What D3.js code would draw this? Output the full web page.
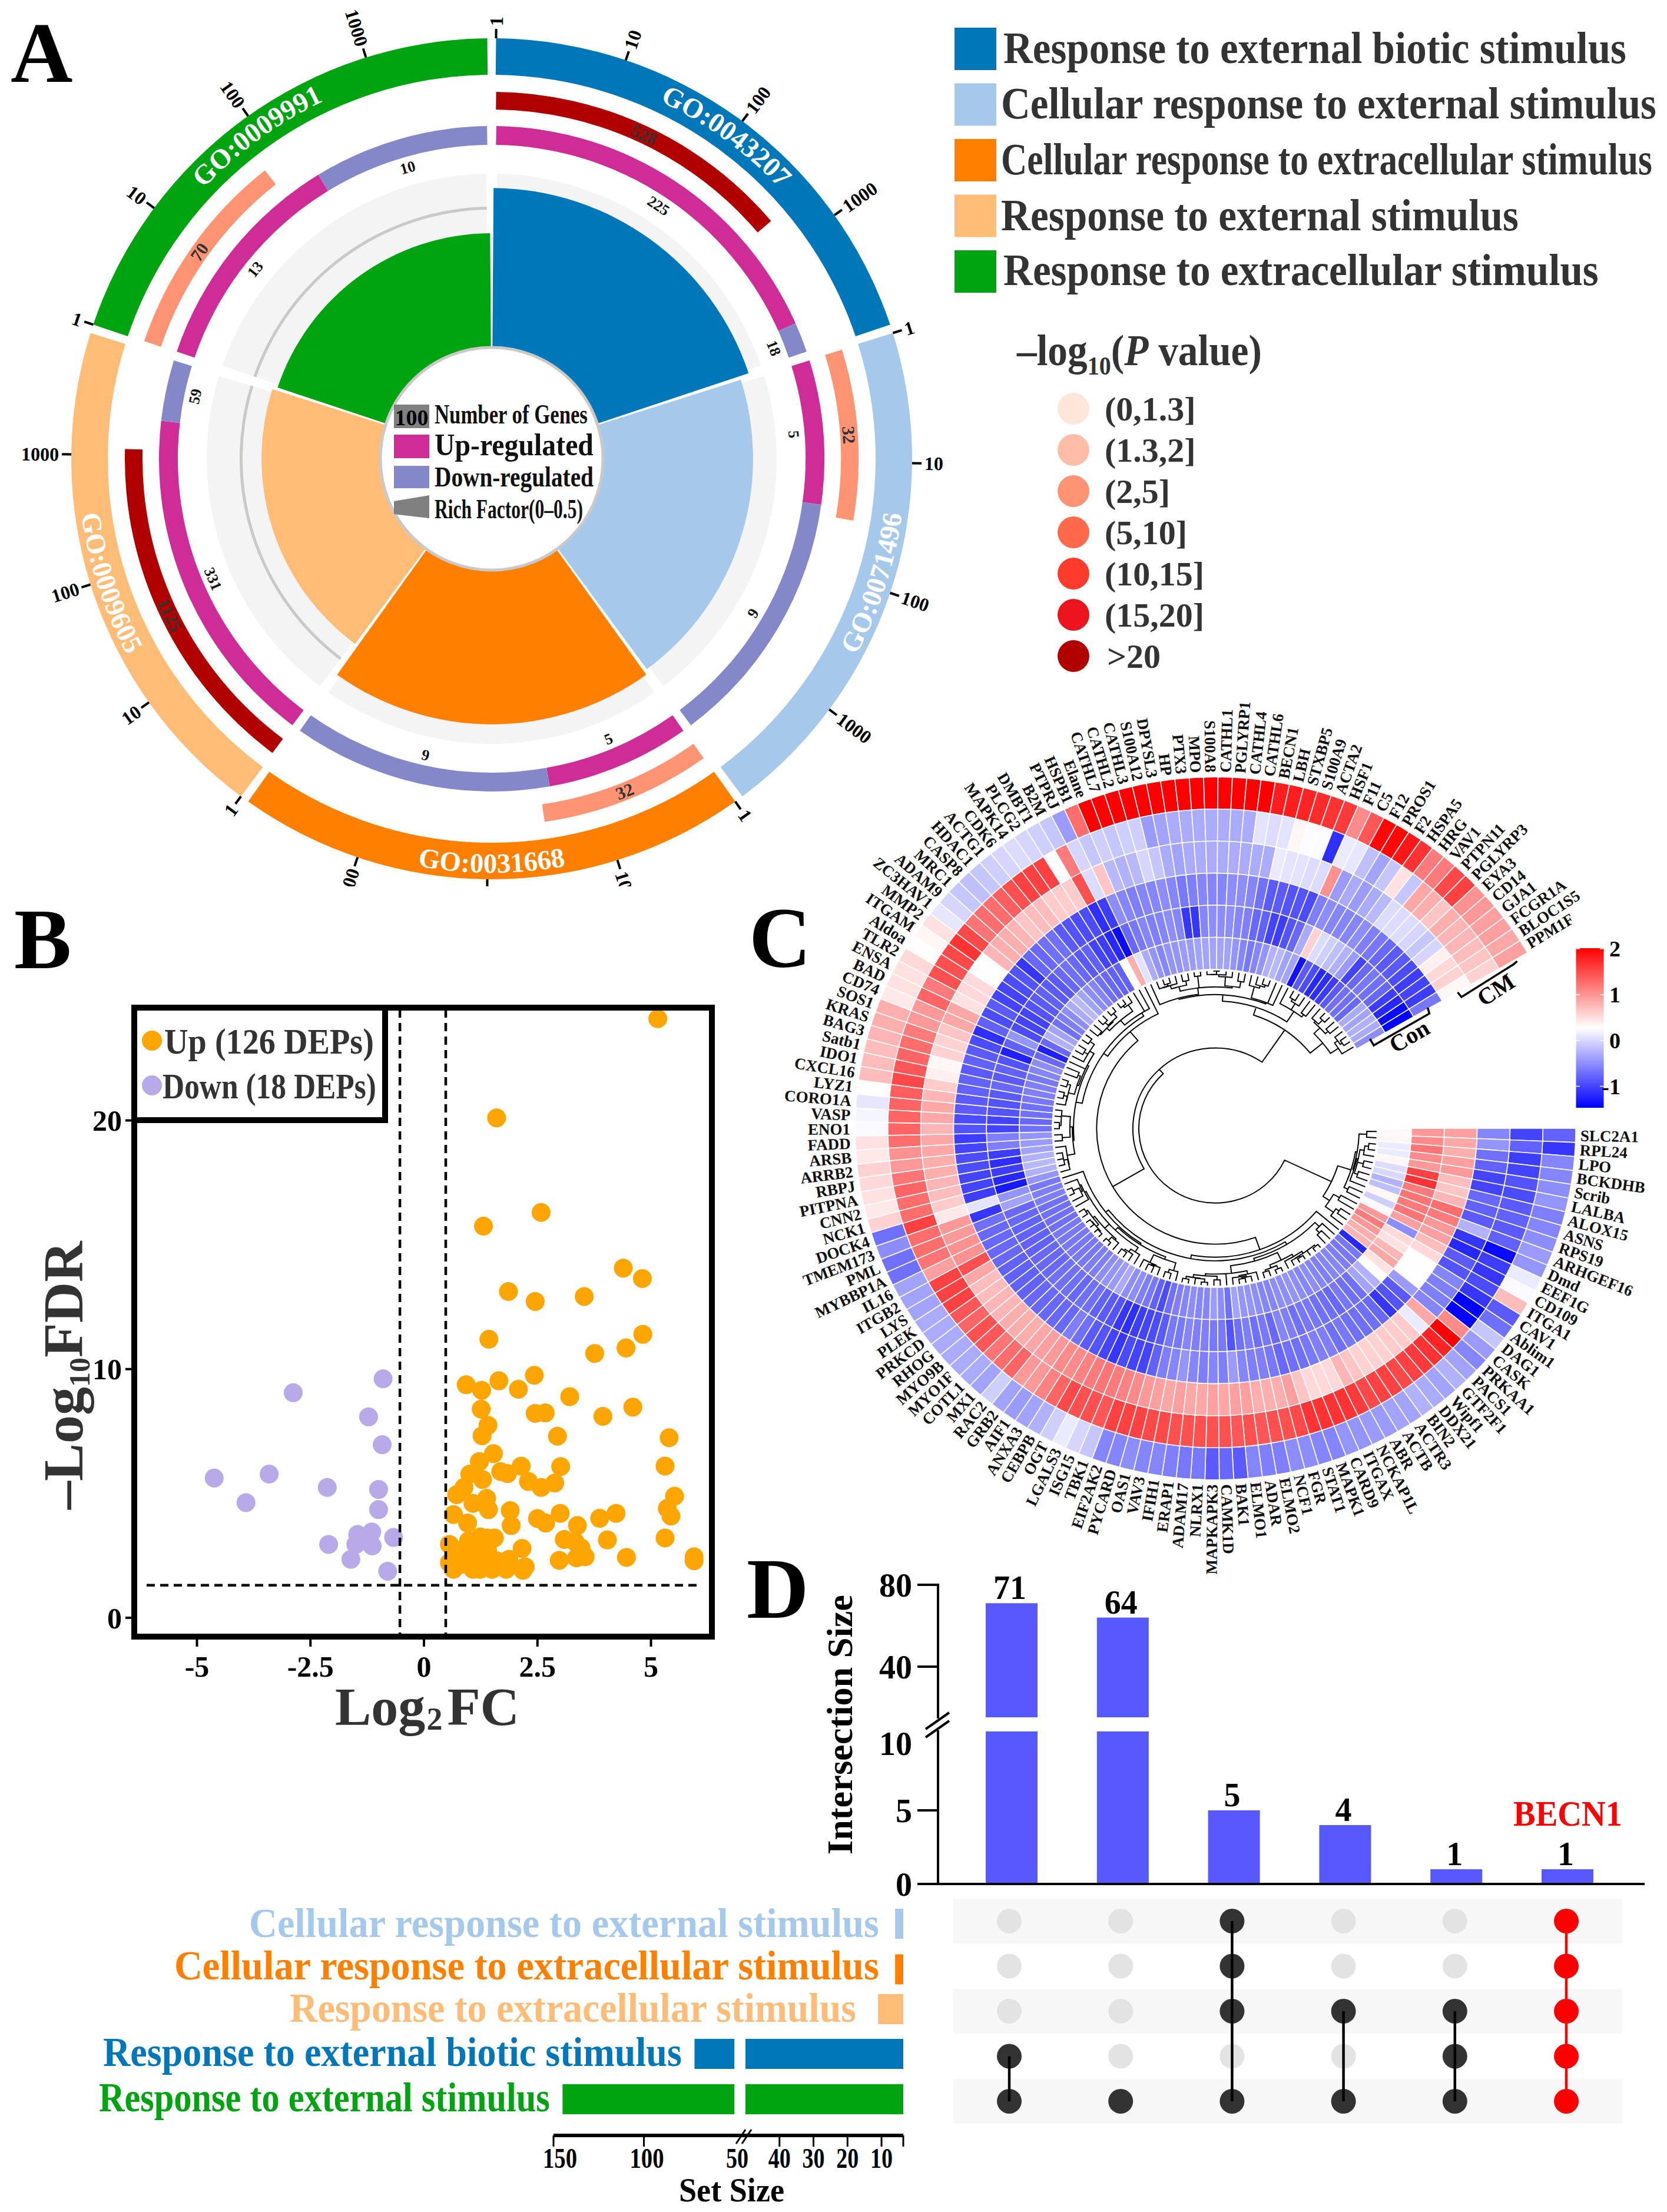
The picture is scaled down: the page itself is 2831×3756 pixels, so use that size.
<!DOCTYPE html>
<html>
<head>
<meta charset="utf-8">
<script src="https://cdn.jsdelivr.net/npm/d3@7"></script>
<style>
  body { margin: 0; background: #fff; }
  text { font-family: "Liberation Serif", serif; font-weight: bold; }
</style>
</head>
<body>
<div id="fig"></div>
<script>
// ---------- panel A data
var goTerms = ["GO:0043207", "GO:0071496", "GO:0031668", "GO:0009605", "GO:0009991"];
var goNames = ["Response to external biotic stimulus", "Cellular response to external stimulus", "Cellular response to extracellular stimulus", "Response to external stimulus", "Response to extracellular stimulus"];
var goColors = ["#0077B8", "#A6C8EA", "#FF8000", "#FEBC77", "#00A410"];
var geneCounts = [528, 32, 32, 1125, 70];
var pColors = ["#B10000", "#FF9474", "#FF9474", "#B10000", "#FF9474"];
var upCounts = [225, 5, 5, 331, 13];
var downCounts = [18, 9, 9, 59, 10];
var richFactor = [0.459, 0.432, 0.444, 0.342, 0.329];
var axisTicks = [1, 10, 100, 1000];
var pLabels = ["(0,1.3]", "(1.3,2]", "(2,5]", "(5,10]", "(10,15]", "(15,20]", ">20"];
var pLegendColors = ["#FEE5DA", "#FFBDA6", "#FF9474", "#FF6A4A", "#FF3B2C", "#EB141C", "#B10000"];

// ---------- panel B data (log2FC, -log10FDR)
var upFC = [5.15,1.6,2.58,1.31,4.39,4.81,1.86,2.45,3.53,1.43,4.82,4.45,3.76,2.43,1.65,.93,1.27,2.08,3.21,4.6,1.26,2.45,2.67,3.94,1.41,1.28,2.94,5.4,1.53,1.22,3.01,5.31,2.14,1.69,1.84,1.01,1.29,2.3,2.88,2.58,.88,.72,1.38,5.52,1.08,1.42,5.36,1.9,.65,3,4.23,3.87,5.44,2.5,2.68,.96,3.38,1.92,5.31,4.04,3.09,1.55,1.38,.98,.56,3.33,3.46,2.16,1.4,1.19,.82,5.95,5.95,4.46,2.98,3.55,3.36,1.87,1.6,1.29,1.03,.56,1.08,.65,1.5,1.81,2.18,.82,1.24,1.4,2.23,.67,1.08,1.24];
var upFDR = [24.09,20.1,16.3,15.75,14.06,13.64,13.12,12.72,12.92,11.2,11.4,10.85,10.63,9.75,9.53,9.37,9.15,9.19,8.89,8.47,8.39,8.22,8.24,8.1,7.74,7.32,7.3,7.24,6.6,6.28,6.08,6.1,6.1,5.88,5.8,5.78,5.56,5.48,5.42,5.24,5.24,4.95,4.8,4.89,4.6,4.35,4.4,4.31,4.15,4.2,4.2,4,4.09,3.99,3.81,3.81,3.71,3.71,3.21,3.13,3.15,3.21,3.21,3.09,2.95,3.05,2.81,2.79,2.75,2.75,2.65,2.45,2.29,2.43,2.31,2.45,2.41,2.35,2.29,2.45,2.35,2.21,1.95,1.95,1.95,1.95,1.91,2.15,1.95,2.25,2.05,2.75,3.05,3.25];
var downFC = [-.9,-2.88,-1.22,-.92,-3.41,-4.62,-3.92,-2.13,-1,-1,-1.15,-1.46,-.67,-2.1,-1.5,-1.14,-1.61,-.8];
var downFDR = [9.61,9.05,8.08,6.96,5.78,5.62,4.63,5.24,5.16,4.35,3.45,3.35,3.23,2.95,2.95,2.89,2.35,1.87];
var fcTicks = [-5, -2.5, 0, 2.5, 5];
var fdrTicks = [0, 10, 20];

// ---------- panel C data, rows run clockwise from SLC2A1
var genes = ["SLC2A1","RPL24","LPO","BCKDHB","Scrib","LALBA","ALOX15","ASNS","RPS19","ARHGEF16","Dmd","EEF1G","CD109","ITGA1","CAV1","Ablim1","DAG1","CASK","PRKAA1","PACS1","GTF2F1","Wipf1","DDX21","BIN2","ACTR3","ACTB","ABR","NCKAP1L","ITGAX","CARD9","MAPK1","STAT1","FGR","NCF1","ELMO2","ADAR","ELMO1","BAK1","CAMK1D","MAPKAPK3","NLRX1","ADAM17","ERAP1","IFIH1","VAV3","OAS1","PYCARD","EIF2AK2","TBK1","ISG15","LGALS3","OGT","CEBPB","ANXA3","AIF1","GRB2","RAC2","MX1","COTL1","MYO1F","MYO9B","RHOG","PRKCD","PLEK","LYS","ITGB2","IL16","MYBBP1A","PML","TMEM173","DOCK4","NCK1","CNN2","PITPNA","RBPJ","ARRB2","ARSB","FADD","ENO1","VASP","CORO1A","LYZ1","CXCL16","IDO1","Satb1","BAG3","KRAS","SOS1","CD74","BAD","ENSA","TLR2","Aldoa","ITGAM","MMP2","ZC3HAV1","ADAM9","MRC1","CASP8","HDAC1","ACTG1","CDK6","MAPK14","PLCG2","DMBT1","B2M","PTPRJ","HSPB1","Elane","CATHL7","CATHL2","CATHL3","S100A12","DPYSL3","HP","PTX3","MPO","S100A8","CATHL1","PGLYRP1","CATHL4","CATHL6","BECN1","LBH","STXBP5","S100A9","ACTA2","HSF1","F11","C5","F12","PROS1","F2","HSPA5","HRG","VAV1","PTPN11","PGLYRP3","EYA3","CD14","GJA1","FCGR1A","BLOC1S5","PPM1F"];
var ring1 = [-.8,-1.1,-.55,-.55,-.5,-.45,-.6,-.55,-.5,-.4,-.45,.15,
  .25,.75,-.85,-.7,-.1,-.4,-.55,-.35,-.25,-.35,-.3,-.25,
  -.35,-.35,-.4,-.4,-.45,-.45,-.55,-.55,-.5,-.5,-.6,-.6,
  -.55,-.85,-.75,-.85,-.65,-.65,-.6,-.55,-.55,-.5,-.55,-.55,
  -.1,0,.15,-.05,-.25,-.35,-.4,-.35,-.05,-.35,-.3,-.3,
  -.3,-.3,-.3,-.3,-.35,-.35,-.35,-.7,-.7,-.5,-.7,.6,
  .45,.5,.55,.6,.45,.5,.25,.22,.12,.3,.75,.75,
  .75,.8,.85,.85,.45,.5,.5,.55,.3,.35,.5,.12,
  0,-.1,-.15,-.1,-.05,0,.05,0,-.05,-.1,-.4,1.3,
  2.05,2.05,2.05,2.05,2.05,2.05,2.05,2.05,2.05,2.05,2.05,2.05,
  2.05,2.05,1.85,1.85,1.8,1.75,1.7,1.65,1.1,1.45,2,2,
  1.9,1.7,1.2,1.2,1.55,1.6,1.05,1,.95,.95,.9,.95];
var ring2 = [-1,-.8,-1.05,-1,-.9,-.95,-.85,-.8,-.85,-.8,-1.4,-1.05,
  -1.1,-.95,-1.1,-1.45,-1.45,1.1,2.05,1.8,1.7,1.65,1.6,1.55,
  1.6,1.6,1.55,1.65,1.7,1.7,1.7,1.7,1.55,1.5,1.5,1.45,
  1.5,1.45,1.5,1.5,1.5,1.5,1.5,1.55,1.55,1.6,1.6,1.6,
  1.45,1.5,1.5,1.55,1.35,1.15,1,1,1.35,1.3,1.25,1.45,
  1.5,1.35,1.45,1.6,1.6,1.6,.95,1.25,1.3,1.3,1.6,1.3,
  1.3,1.35,1.25,1,1.05,1.3,1.35,1.35,1.35,1.4,1.55,1.45,
  1.35,1.3,1.2,1,1,1.35,1.2,1.5,1.5,1.55,1.7,1.55,
  1.25,1.3,1.3,1.4,1.5,1.6,1.6,1.6,.27,1.2,0,-.1,
  -.05,-.1,-.05,-.05,-.4,-.35,-.3,-.3,-.3,-.3,-.3,-.3,
  -.3,.1,.05,.1,.35,.27,.27,-1.15,.15,.12,-.15,-.35,
  -.1,.5,-.1,.9,.85,.7,.85,.8,.8,.75,.7,.6];
var ring3 = [-.55,-.45,-.7,-.8,-1,-1,-.75,-.8,-.85,-.25,-1.1,-1.2,
  -.85,-.9,-.55,-.6,-.6,-.55,.9,.15,.65,.65,.65,.6,
  .6,.6,.7,.8,.55,.55,.55,.7,.95,.85,.85,.85,
  .95,.95,.9,.95,.9,.9,.95,.9,.95,1,1.1,1.15,
  1.2,1.25,1.2,1.15,1.1,1.1,1,.95,.9,.85,.85,.85,
  .8,.8,.75,.75,.9,1.5,1.05,1.05,1,1,.45,.65,
  .75,.8,.85,.85,.9,.9,.8,.9,.9,.8,.65,.4,
  .35,.6,.6,.7,.9,.9,.5,.55,.55,.3,.3,.8,
  .85,.85,.8,.7,.75,.75,.65,.65,.65,1.5,.05,.7,
  -.2,-.25,-.2,0,-.1,-.3,-.35,-.3,-.3,-.3,-.3,-.3,
  -.3,-.3,-.3,.15,.1,.1,.05,.05,1.05,-.4,-.3,-.4,
  -.3,-.2,.05,.05,.05,0,-.1,0,.4,.55,.6,.35];
var ring4 = [.95,.9,.85,.95,1,.75,.7,.8,1.3,1.2,1,.95,
  .75,.55,.3,.3,.3,-.4,-.85,-.9,-1.1,-.75,-.7,-.7,
  -.7,-.65,-.7,-.6,-.6,-.65,-.7,-.7,-.75,-.65,-.6,-.6,
  -.55,-.4,-.6,-.55,-.6,-.55,-.45,-.55,-.6,-.8,-1,-1,
  -.95,-1.1,-1,-.9,-.85,-.7,-.6,-.75,-.75,-.75,-.75,-.75,
  -.8,-.8,-.8,-.8,-.75,-.75,-.75,-.75,-.7,-1.1,.1,-1.05,
  -1,-1,-.95,-.95,-1,-1.05,-.9,-.95,-.85,-.85,-.8,-.8,
  -.85,-.8,-.85,-.95,-1.15,-.8,-.95,-.85,-1,-1,-.95,-.9,
  -1.1,-.75,-.75,-.7,-.7,-.85,-.9,-.95,-.95,-1.15,-1.05,-.5,
  -.55,-.6,-.55,-.55,-.5,-.55,-.65,-.6,-.55,-.55,-.55,-.5,
  -.5,-.55,-.7,-.85,-.85,-.9,-.9,-.95,-.6,-.5,-.55,-.55,
  -.55,-.5,-.6,-.65,-.75,-.85,-.85,-.95,-1.05,-1,-1.05,-.65];
var ring5 = [1,1.1,1.25,1.1,1,1.6,1.7,1.2,1.25,1.2,1.25,.95,
  -.5,.55,.5,.8,.9,.5,.3,-.25,-.35,-.7,-.7,-.65,
  -.75,-.7,-.7,-.65,-.65,-.7,-.6,-.55,-.75,-.65,-.7,-.6,
  -.7,-.9,-.65,-.65,-.6,-.6,-.55,-.65,-.65,-.85,-.95,-1,
  -1.05,-1.15,-1.1,-.9,-.85,-.8,-.7,-.7,-.75,-.7,-.7,-.7,
  -.75,-.75,-.75,-.8,-.8,-.8,-.8,-.75,-.75,-.35,-.45,-1.3,
  -1.2,-1.05,-1.15,-1.05,-.6,-.6,-1,-1,-.9,-.9,-.85,-.75,
  -.85,-.8,-.9,-1.25,-.8,-.45,-.95,-1,-1,-.9,-.85,-.8,
  -.85,-.85,-.75,-.7,-.75,-.85,-.8,-1,-1.05,-1.2,-1.4,-.75,
  -.65,-.55,-.6,-.55,-.5,-.55,-1.1,-1.1,-.55,-.5,-.5,-.5,
  -.55,-.6,-.75,-.8,-1,-1.05,-.9,-.75,-.3,.6,.05,-.05,
  -.15,-.25,-.4,-1,-.75,-.65,-.7,-.75,-1.05,-1.2,-1.4,-1.5];
var ring6 = [.34,.35,.15,.15,.35,.05,.02,-.25,-.15,.35,-.05,.25,
  1,1.2,1,.85,.8,-1.2,-.65,-.65,-.6,-.55,-.55,-.6,
  -.55,-.5,-.55,-.5,-.45,-.5,-.5,-.55,-.55,-.5,-.45,-.45,
  -.35,-.7,-.5,-.4,-.55,-.55,-.5,-.55,-.6,-.7,-.95,-.8,
  -.65,-.6,-.5,-.5,-.3,-.4,-.45,-.5,-.6,-.6,-.65,-.65,
  -.65,-.65,-.65,-.65,-.7,-.7,-.7,-.7,-.6,-.6,-.65,-.45,
  -.25,-.2,-.25,-.35,-.4,-.45,-.7,-.75,-.7,-.7,-.65,-.6,
  -.6,-.65,-.55,-.5,-.75,-1.25,-.75,-.25,-.35,-.7,-.6,-.5,
  -.3,-.2,-.35,-.5,-.55,-.7,-.75,-.8,-.8,.3,.85,.1,
  -.3,-.45,-.55,-.45,-.45,-.4,-.4,-.35,-.35,-.35,-.35,-.35,
  -.45,-.55,-.65,-.55,-.45,-.25,-.2,-.35,-.35,-1.35,-.85,-.95,
  -1.2,-1.15,-1.05,-.85,-.7,-.7,-.75,-.3,-.35,-.25,-.3,-.5];
var colorbarTicks = [-1, 0, 1, 2];

// ---------- panel D data
var interSizes = [71, 64, 5, 4, 1, 1];
var interSets = [[3, 4], [4], [0, 1, 2, 4], [2, 4], [2, 3, 4], [0, 1, 2, 3, 4]];
var setNames = ["Cellular response to external stimulus", "Cellular response to extracellular stimulus", "Response to extracellular stimulus", "Response to external biotic stimulus", "Response to external stimulus"];
var setColors = ["#A6C8EA", "#FF8000", "#FEBC77", "#0077B8", "#00A410"];
var setSizes = [6, 6, 11, 72, 145];
var interTicksLow = [0, 5, 10];
var interTicksHigh = [40, 80];
var setTicksLeft = [150, 100, 50];
var setTicksRight = [40, 30, 20, 10];

var svg = d3.select("#fig").append("svg").attr("width", 2831).attr("height", 3756).style("display", "block");
var rad = function(a) { return a * Math.PI / 180; };

// squeeze a text to a measured width, the figure's type is condensed
var fit = function(t, x, y, len) {
  var k = len / t.node().getComputedTextLength();
  t.attr("transform", "translate(" + x + "," + y + ") scale(" + k + ",1)");
  return t;
};

// panel letters
[["A", 18, 139], ["B", 24, 1644], ["C", 1272, 1642], ["D", 1268, 2747]].forEach(function(d) {
  svg.append("text").attr("x", d[1]).attr("y", d[2]).attr("font-size", 146).text(d[0]);
});

// ================= A : circular enrichment
var cxA = 835, cyA = 779;
svg.append("clipPath").attr("id", "clipA").append("rect").attr("x", 0).attr("y", 0).attr("width", 2000).attr("height", 1505);
var gA = svg.append("g").attr("clip-path", "url(#clipA)").append("g").attr("transform", "translate(" + cxA + "," + cyA + ")");
var logDeg = d3.scaleLog().domain([1, 10000]).range([0, 72]);
var rich = d3.scaleLinear().domain([0, 0.5]).range([189, 484]);
var arcDeg = function(r0, r1, a0, a1) {
  return d3.arc()({ innerRadius: r0, outerRadius: r1, startAngle: rad(a0), endAngle: rad(a1) });
};
var polar = function(r, a) { return [r * Math.sin(rad(a)), -r * Math.cos(rad(a))]; };
var slices = goTerms.map(function(t, i) { return { term: t, i: i, start: i * 72 }; });

// grey backgrounds, rich factor reference line and sectors
gA.selectAll(".bg").data(slices).enter().append("path")
  .attr("d", function(d) { return arcDeg(189, 484, d.start + 1.1, d.start + 70.9); }).attr("fill", "#f4f4f4");
gA.selectAll(".ref").data(slices).enter().append("path")
  .attr("d", function(d) { return arcDeg(423, 428, d.start + 1.1, d.start + 70.9); }).attr("fill", "#c9c9c9");
gA.selectAll(".sector").data(slices).enter().append("path")
  .attr("d", function(d) { return arcDeg(189, rich(richFactor[d.i]), d.start + 0.4, d.start + 71.6); })
  .attr("fill", function(d) { return goColors[d.i]; });

// outer ring with log axis
gA.selectAll(".outer").data(slices).enter().append("path")
  .attr("d", function(d) { return arcDeg(652, 714, d.start + 0.6, d.start + 71.4); })
  .attr("fill", function(d) { return goColors[d.i]; });
slices.forEach(function(s) {
  axisTicks.forEach(function(t) {
    var a = s.start + 0.6 + logDeg(t), p0 = polar(714, a), p1 = polar(730, a), p = polar(735, a);
    gA.append("line").attr("x1", p0[0]).attr("y1", p0[1]).attr("x2", p1[0]).attr("y2", p1[1])
      .attr("stroke", "#000").attr("stroke-width", 4);
    var right = a < 180;
    gA.append("text").attr("font-size", 32).attr("dy", "0.35em")
      .attr("text-anchor", right ? "start" : "end")
      .attr("transform", "translate(" + p + ") rotate(" + (right ? a - 90 : a + 90) + ")")
      .text(t);
  });
  // GO label follows the ring
  var mid = s.start + 36, flip = mid > 90 && mid < 270;
  var rb = flip ? 703 : 671;
  var path = d3.path();
  if (flip) path.arc(0, 0, rb, rad(mid + 30 - 90), rad(mid - 30 - 90), true);
  else path.arc(0, 0, rb, rad(mid - 30 - 90), rad(mid + 30 - 90), false);
  gA.append("path").attr("id", "go" + s.i).attr("d", path.toString()).attr("fill", "none");
  gA.append("text").attr("fill", "#fff").attr("font-size", 47).attr("text-anchor", "middle")
    .append("textPath").attr("href", "#go" + s.i).attr("startOffset", "50%").text(s.term);

  // gene count bar, log scaled
  var end = s.start + 0.6 + logDeg(geneCounts[s.i]);
  gA.append("path").attr("d", arcDeg(593, 623, s.start + 0.7, end)).attr("fill", pColors[s.i]);
  var cMid = (s.start + 0.7 + end) / 2, c = polar(608, cMid), cf = cMid > 90 && cMid < 270;
  gA.append("text").attr("font-size", 30).attr("fill", "#333").attr("text-anchor", "middle").attr("dy", "0.35em")
    .attr("transform", "translate(" + c + ") rotate(" + (cf ? cMid + 180 : cMid) + ")").text(geneCounts[s.i]);

  // up / down ring
  var split = d3.scaleLinear().domain([0, upCounts[s.i] + downCounts[s.i]]).range([s.start + 0.8, s.start + 71.2]);
  var upEnd = split(upCounts[s.i]);
  gA.append("path").attr("d", arcDeg(533, 565, s.start + 0.8, upEnd)).attr("fill", "#CE2C96");
  gA.append("path").attr("d", arcDeg(533, 565, upEnd, s.start + 71.2)).attr("fill", "#8488C8");
  [[upCounts[s.i], (s.start + 0.8 + upEnd) / 2], [downCounts[s.i], (upEnd + s.start + 71.2) / 2]].forEach(function(l) {
    var q = polar(515, l[1]);
    var lf = l[1] > 90 && l[1] < 270;
    gA.append("text").attr("font-size", 26).attr("fill", "#111").attr("text-anchor", "middle").attr("dy", "0.35em")
      .attr("transform", "translate(" + q + ") rotate(" + (lf ? l[1] + 180 : l[1]) + ")").text(l[0]);
  });
});

// hub with the small key
gA.append("circle").attr("r", 189).attr("fill", "#fff").attr("stroke", "#c9c9c9").attr("stroke-width", 5);
var gHub = svg.append("g");
gHub.append("rect").attr("x", 669).attr("y", 687).attr("width", 60).attr("height", 40).attr("fill", "#808080");
gHub.append("text").attr("x", 699).attr("y", 722).attr("font-size", 38).attr("text-anchor", "middle").text("100");
gHub.append("rect").attr("x", 669).attr("y", 738).attr("width", 60).attr("height", 40).attr("fill", "#CE2C96");
gHub.append("rect").attr("x", 669).attr("y", 791).attr("width", 60).attr("height", 38).attr("fill", "#8488C8");
gHub.append("path").attr("d", "M669,851L729,841V880L669,873Z").attr("fill", "#808080");
[["Number of Genes", 719, 46, 260], ["Up-regulated", 773, 52, 270], ["Down-regulated", 826, 48, 270], ["Rich Factor(0–0.5)", 880, 46, 252]].forEach(function(d) {
  fit(gHub.append("text").attr("font-size", d[2]).attr("fill", "#111").text(d[0]), 738, d[1], d[3]);
});

// term legend
var legendY = d3.scalePoint().domain(goNames).range([47, 425]);
var legendEnd = [2762, 2813, 2806, 2579, 2715];
var legendBase = [107, 201, 296, 391, 484];
var legendStart = [1704, 1700, 1700, 1700, 1704];
goNames.forEach(function(n, i) {
  svg.append("rect").attr("x", 1621).attr("y", legendY(n)).attr("width", 71).attr("height", 72).attr("fill", goColors[i]);
  fit(svg.append("text").attr("font-size", 76).attr("fill", "#333").text(n), legendStart[i], legendBase[i], legendEnd[i] - legendStart[i]);
});

// p value legend
var pt = svg.append("text").attr("font-size", 74).attr("fill", "#333");
pt.append("tspan").text("–log");
pt.append("tspan").attr("font-size", 44).attr("dy", 16).text("10");
pt.append("tspan").attr("dy", -16).text("(");
pt.append("tspan").attr("font-style", "italic").text("P");
pt.append("tspan").text(" value)");
fit(pt, 1727, 620, 416);
var pY = d3.scalePoint().domain(pLabels).range([694, 1114]);
pLabels.forEach(function(l, i) {
  svg.append("circle").attr("cx", 1823).attr("cy", pY(l)).attr("r", 27).attr("fill", pLegendColors[i]);
  svg.append("text").attr("x", l == ">20" ? 1880 : 1876).attr("y", pY(l) + 20).attr("font-size", 58).attr("fill", "#333").text(l);
});

// ================= B : volcano
var xB = d3.scaleLinear().domain([-5, 5]).range([334.5, 1105.5]);
var yB = d3.scaleLinear().domain([0, 20]).range([2747, 1902.5]);
var gB = svg.append("g");
gB.selectAll(".up").data(upFC).enter().append("circle")
  .attr("cx", function(d) { return xB(d); })
  .attr("cy", function(d, i) { return yB(upFDR[i]); })
  .attr("r", 16).attr("fill", "#FFA500");
gB.selectAll(".down").data(downFC).enter().append("circle")
  .attr("cx", function(d) { return xB(d); })
  .attr("cy", function(d, i) { return yB(downFDR[i]); })
  .attr("r", 16).attr("fill", "#B8A9E8");
[-0.53, 0.48].forEach(function(v) {
  gB.append("line").attr("x1", xB(v)).attr("x2", xB(v)).attr("y1", 1714).attr("y2", 2776)
    .attr("stroke", "#000").attr("stroke-width", 4.5).attr("stroke-dasharray", "14 9");
});
gB.append("line").attr("x1", 249).attr("x2", 1190).attr("y1", yB(1.31)).attr("y2", yB(1.31))
  .attr("stroke", "#000").attr("stroke-width", 4.5).attr("stroke-dasharray", "14 9");
gB.append("rect").attr("x", 228).attr("y", 1711).attr("width", 981).attr("height", 1068)
  .attr("fill", "none").attr("stroke", "#000").attr("stroke-width", 10);
gB.append("rect").attr("x", 228).attr("y", 1711).attr("width", 426).attr("height", 191).attr("fill", "#fff").attr("stroke", "#000").attr("stroke-width", 10);
fcTicks.forEach(function(t) {
  gB.append("line").attr("x1", xB(t)).attr("x2", xB(t)).attr("y1", 2784).attr("y2", 2796).attr("stroke", "#000").attr("stroke-width", 4);
  gB.append("text").attr("x", xB(t)).attr("y", 2847).attr("font-size", 50).attr("text-anchor", "middle").text(t);
});
fdrTicks.forEach(function(t) {
  gB.append("line").attr("x1", 213).attr("x2", 223).attr("y1", yB(t)).attr("y2", yB(t)).attr("stroke", "#000").attr("stroke-width", 4);
  gB.append("text").attr("x", 207).attr("y", yB(t)).attr("dy", "0.35em").attr("font-size", 50).attr("text-anchor", "end").text(t);
});
gB.append("circle").attr("cx", 258).attr("cy", 1767).attr("r", 17).attr("fill", "#FFA500");
gB.append("circle").attr("cx", 258).attr("cy", 1843).attr("r", 17).attr("fill", "#B8A9E8");
fit(gB.append("text").attr("font-size", 62).attr("fill", "#333").text("Up (126 DEPs)"), 279, 1789, 356);
fit(gB.append("text").attr("font-size", 62).attr("fill", "#333").text("Down (18 DEPs)"), 276, 1865, 363);
var yt = gB.append("text").attr("transform", "translate(140,2563) rotate(-90)").attr("font-size", 96).attr("fill", "#333");
yt.append("tspan").text("–Log");
yt.append("tspan").attr("font-size", 50).attr("dy", 12).text("10");
yt.append("tspan").attr("dy", -12).text("FDR");
var xt = gB.append("text").attr("x", 569).attr("y", 2929).attr("font-size", 92).attr("fill", "#333");
xt.append("tspan").text("Log");
xt.append("tspan").attr("font-size", 54).attr("dy", 8).attr("dx", 2).text("2");
xt.append("tspan").attr("dy", -8).attr("dx", 8).text("FC");

// ================= C : circular heatmap
var rings = [ring1, ring2, ring3, ring4, ring5, ring6];
var cxC = 2064, cyC = 1916, squash = 0.975;
var heat = d3.scaleLinear().domain([-1.47, 0.29, 2.05]).range(["#0000ff", "#ffffff", "#ff0000"]).clamp(true);
var rowAngle = d3.scaleLinear().domain([0, genes.length]).range([90, 420]);
var ringR = d3.scaleLinear().domain([0, 6]).range([612, 277]);
var gC = svg.append("g").attr("transform", "translate(" + cxC + "," + cyC + ") scale(1," + squash + ")");
rings.forEach(function(vals, k) {
  gC.append("g").selectAll("path").data(vals).enter().append("path")
    .attr("d", function(d, i) { return arcDeg(ringR(k + 1), ringR(k), rowAngle(i), rowAngle(i + 1)); })
    .attr("fill", function(d) { return heat(d); })
    .attr("stroke", "#fff").attr("stroke-width", 1.6);
});

// dendrogram: merge neighbouring rows on their ring values
var clusters = genes.map(function(g, i) {
  return { a: rowAngle(i + 0.5), n: 1, h: 0, c: rings.map(function(r) { return r[i]; }) };
});
var nodes = [];
var wardDist = function(p, q) {
  var s = d3.sum(p.c, function(v, j) { return (v - q.c[j]) * (v - q.c[j]); });
  return Math.sqrt(2 * p.n * q.n / (p.n + q.n) * s);
};
while (clusters.length > 1) {
  var best = 0, bestD = Infinity;
  for (var j = 0; j < clusters.length - 1; j++) {
    var dd = wardDist(clusters[j], clusters[j + 1]);
    if (dd < bestD) { bestD = dd; best = j; }
  }
  var l = clusters[best], r = clusters[best + 1];
  var merged = {
    a: (l.a + r.a) / 2, n: l.n + r.n, h: Math.max(bestD, l.h, r.h), left: l, right: r,
    c: l.c.map(function(v, j) { return (v * l.n + r.c[j] * r.n) / (l.n + r.n); })
  };
  nodes.push(merged);
  clusters.splice(best, 2, merged);
}
var topH = d3.max(nodes, function(d) { return d.h; });
var treeR = d3.scalePow().exponent(0.55).domain([0, topH]).range([274, 130]);
var dendro = d3.path();
nodes.forEach(function(d) {
  var rr = treeR(d.h);
  var p0 = polar(treeR(d.left.h), d.left.a), p1 = polar(rr, d.left.a);
  var p3 = polar(treeR(d.right.h), d.right.a);
  dendro.moveTo(p0[0], p0[1]); dendro.lineTo(p1[0], p1[1]);
  dendro.arc(0, 0, rr, rad(d.left.a - 90), rad(d.right.a - 90), false);
  dendro.lineTo(p3[0], p3[1]);
});
gC.append("path").attr("d", dendro.toString()).attr("fill", "none").attr("stroke", "#000").attr("stroke-width", 2);

// gene labels, radial
genes.forEach(function(g, i) {
  var a = rowAngle(i + 0.5), aa = a % 360, right = aa < 180;
  var px = cxC + 620 * Math.sin(rad(a)), py = cyC - 620 * squash * Math.cos(rad(a));
  svg.append("text").attr("font-size", 27).attr("dy", "0.35em").attr("fill", "#111")
    .attr("text-anchor", right ? "start" : "end")
    .attr("transform", "translate(" + px + "," + py + ") rotate(" + (right ? aa - 90 : aa + 90) + ")")
    .text(g);
});

// Con / CM brackets
svg.append("path").attr("d", "M2475.5,1685L2482,1693L2571,1637L2576.5,1632").attr("fill", "none").attr("stroke", "#000").attr("stroke-width", 3.5);
svg.append("text").attr("font-size", 40).attr("text-anchor", "middle").attr("dy", "0.35em")
  .attr("transform", "translate(2540,1680) rotate(-33)").text("CM");
svg.append("path").attr("d", "M2326.5,1764L2333,1775L2427.5,1721L2424.5,1711").attr("fill", "none").attr("stroke", "#000").attr("stroke-width", 3.5);
svg.append("text").attr("font-size", 40).attr("text-anchor", "middle").attr("dy", "0.35em")
  .attr("transform", "translate(2393,1759) rotate(-30)").text("Con");

// colour bar
var cbY = d3.scaleLinear().domain([-1, 2]).range([1844.5, 1611]);
var grad = svg.append("defs").append("linearGradient").attr("id", "cb").attr("x1", 0).attr("x2", 0).attr("y1", 1).attr("y2", 0);
d3.range(0, 1.001, 0.1).forEach(function(t) {
  grad.append("stop").attr("offset", t).attr("stop-color", heat(-1.47 + t * 3.52));
});
svg.append("rect").attr("x", 2676.5).attr("y", 1610).attr("width", 47).attr("height", 271).attr("fill", "url(#cb)");
colorbarTicks.forEach(function(t) {
  [[2676.5, 2683], [2717, 2723.5]].forEach(function(e) {
    svg.append("line").attr("x1", e[0]).attr("x2", e[1]).attr("y1", cbY(t)).attr("y2", cbY(t)).attr("stroke", "#fff").attr("stroke-width", 1.5);
  });
  svg.append("text").attr("x", 2752).attr("y", cbY(t)).attr("dy", "0.35em").attr("font-size", 38).attr("text-anchor", "end").text(t);
});

// ================= D : upset
var xD = d3.scalePoint().domain(d3.range(6)).range([1718, 2662]);
var xDot = d3.scalePoint().domain(d3.range(6)).range([1714, 2660]);
var yLow = d3.scaleLinear().domain([0, 10.36]).range([3199, 2940]);
var yHigh = d3.scaleLinear().domain([15.25, 80]).range([2916, 2691]);
var gD = svg.append("g");
interSizes.forEach(function(v, i) {
  var low = Math.min(v, 10.36);
  gD.append("rect").attr("x", xD(i) - 44).attr("width", 88).attr("y", yLow(low)).attr("height", 3199 - yLow(low)).attr("fill", "#5858FF");
  if (v > 15.25) {
    gD.append("rect").attr("x", xD(i) - 44).attr("width", 88).attr("y", yHigh(v)).attr("height", 2916 - yHigh(v)).attr("fill", "#5858FF");
  }
  gD.append("text").attr("x", xD(i) - 3).attr("y", (v > 15.25 ? yHigh(v) : yLow(v)) - 7)
    .attr("font-size", 56).attr("text-anchor", "middle").text(v);
});
gD.append("line").attr("x1", 1593).attr("x2", 1593).attr("y1", 2689).attr("y2", 2918).attr("stroke", "#000").attr("stroke-width", 4);
gD.append("line").attr("x1", 1593).attr("x2", 1593).attr("y1", 2938).attr("y2", 3199).attr("stroke", "#000").attr("stroke-width", 4);
gD.append("line").attr("x1", 1558).attr("x2", 2793).attr("y1", 3199).attr("y2", 3199).attr("stroke", "#000").attr("stroke-width", 4);
[2918, 2932].forEach(function(y0) {
  gD.append("line").attr("x1", 1572).attr("x2", 1612).attr("y1", y0 + 18).attr("y2", y0 - 10).attr("stroke", "#000").attr("stroke-width", 4);
});
interTicksHigh.forEach(function(t) {
  gD.append("line").attr("x1", 1558).attr("x2", 1593).attr("y1", yHigh(t)).attr("y2", yHigh(t)).attr("stroke", "#000").attr("stroke-width", 4);
  gD.append("text").attr("x", 1549).attr("y", yHigh(t)).attr("dy", "0.35em").attr("font-size", 56).attr("text-anchor", "end").text(t);
});
interTicksLow.forEach(function(t) {
  if (t != 10) gD.append("line").attr("x1", 1558).attr("x2", 1593).attr("y1", yLow(t)).attr("y2", yLow(t)).attr("stroke", "#000").attr("stroke-width", 4);
  gD.append("text").attr("x", 1549).attr("y", yLow(t) + (t == 10 ? 11 : 0)).attr("dy", "0.35em").attr("font-size", 56).attr("text-anchor", "end").text(t);
});
gD.append("text").attr("transform", "translate(1447,3149) rotate(-90)").attr("font-size", 62)
  .attr("textLength", 441).attr("lengthAdjust", "spacingAndGlyphs").text("Intersection Size");
fit(gD.append("text").attr("font-size", 62).attr("fill", "#FF0000").text("BECN1"), 2570, 3100, 185);

// matrix
var rowY = d3.scalePoint().domain(d3.range(5)).range([3262, 3568]);
[0, 2, 4].forEach(function(r) {
  gD.append("rect").attr("x", 1619).attr("width", 1136).attr("y", rowY(r) - 38).attr("height", 76).attr("fill", "#F7F7F7");
});
interSets.forEach(function(set, c) {
  d3.range(5).forEach(function(r) {
    gD.append("ellipse").attr("cx", xDot(c)).attr("cy", rowY(r)).attr("rx", 21).attr("ry", 21)
      .attr("fill", set.indexOf(r) < 0 ? "#E3E3E3" : (c == 5 ? "#FF0000" : "#333333"));
  });
  if (set.length > 1) {
    gD.append("line").attr("x1", xDot(c)).attr("x2", xDot(c))
      .attr("y1", rowY(d3.min(set))).attr("y2", rowY(d3.max(set)))
      .attr("stroke", c == 5 ? "#FF0000" : "#000").attr("stroke-width", 4.5);
  }
});

// set size bars
var xSetRight = d3.scaleLinear().domain([3.6, 50]).range([1534, 1266]);
var xSetLeft = d3.scaleLinear().domain([50, 150]).range([1247, 940]);
var setTops = [3241, 3318.5, 3386, 3462, 3539];
var setLabelEnd = [1493, 1493, 1454, 1158, 934];
var setLabelStart = [423, 296, 492, 175, 168];
var setBase = [3289, 3361, 3433, 3508, 3585];
setSizes.forEach(function(v, i) {
  var xr = xSetRight(Math.min(v, 50));
  gD.append("rect").attr("x", xr).attr("y", setTops[i]).attr("width", 1534 - xr).attr("height", 51).attr("fill", setColors[i]);
  if (v > 50) {
    gD.append("rect").attr("x", xSetLeft(v)).attr("y", setTops[i]).attr("width", 1247 - xSetLeft(v)).attr("height", 51).attr("fill", setColors[i]);
  }
  fit(gD.append("text").attr("font-size", 70).attr("fill", setColors[i]).text(setNames[i]), setLabelStart[i], setBase[i], setLabelEnd[i] - setLabelStart[i]);
});
gD.append("line").attr("x1", 940).attr("x2", 1534).attr("y1", 3626).attr("y2", 3626).attr("stroke", "#000").attr("stroke-width", 6);
[1250, 1260].forEach(function(x0) {
  gD.append("line").attr("x1", x0).attr("x2", x0 + 16).attr("y1", 3640).attr("y2", 3616).attr("stroke", "#000").attr("stroke-width", 3);
});
gD.append("line").attr("x1", 1534).attr("x2", 1534).attr("y1", 3626).attr("y2", 3645).attr("stroke", "#000").attr("stroke-width", 3);
setTicksLeft.forEach(function(t) {
  if (t != 50) gD.append("line").attr("x1", xSetLeft(t)).attr("x2", xSetLeft(t)).attr("y1", 3626).attr("y2", 3645).attr("stroke", "#000").attr("stroke-width", 3);
  var w = t == 50 ? 38 : 58;
  fit(gD.append("text").attr("font-size", 48).text(t), xSetLeft(t) + (t == 150 ? 11 : 5) - w / 2, 3681, w);
});
setTicksRight.forEach(function(t) {
  gD.append("line").attr("x1", xSetRight(t)).attr("x2", xSetRight(t)).attr("y1", 3626).attr("y2", 3645).attr("stroke", "#000").attr("stroke-width", 3);
  fit(gD.append("text").attr("font-size", 48).text(t), xSetRight(t) - 19, 3681, 38);
});
fit(gD.append("text").attr("font-size", 56).text("Set Size"), 1153, 3738, 179);
</script>
</body>
</html>
